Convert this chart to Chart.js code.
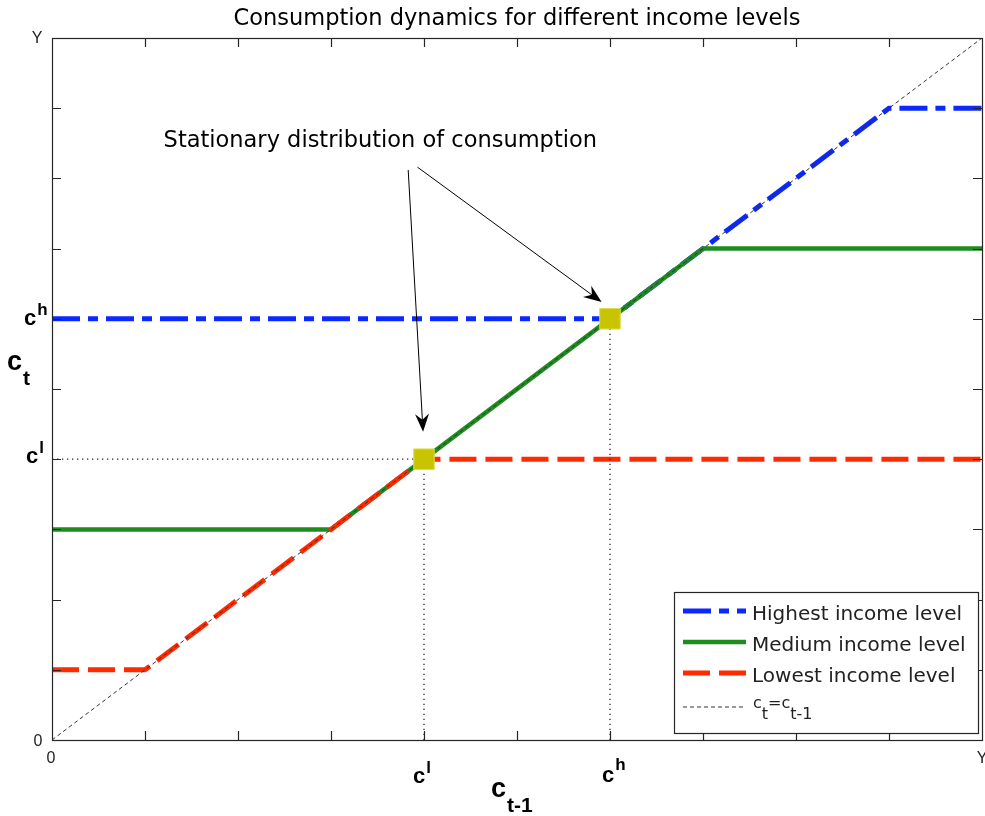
<!DOCTYPE html>
<html>
<head>
<meta charset="utf-8">
<script src="https://cdn.jsdelivr.net/npm/chart.js@4.4.1/dist/chart.umd.min.js"></script>
<style>
  body { margin: 0; background: #fff; }
</style>
</head>
<body>
<canvas id="myChart" width="985" height="816"></canvas>
<script>
// consumption levels (axis runs 0 .. Y, Y = 10 units)
const yMax = 10;
const cLow = 4;
const cHigh = 6;
const tickValues = [0, 1, 2, 3, 4, 5, 6, 7, 8, 9, 10];

// policy functions c_t(c_{t-1}) for each income level
const highX = [0, 6, 9, 10];
const highY = [6, 6, 9, 9];
const medX = [0, 3, 7, 10];
const medY = [3, 3, 7, 7];
const lowX = [0, 1, 4, 10];
const lowY = [1, 1, 4, 4];
const diagX = [0, 10];
const diagY = [0, 10];

// stationary points
const statX = [cLow, cHigh];
const statY = [cLow, cHigh];

// annotation (data units)
const noteText = "Stationary distribution of consumption";
const noteAt = { x: 3.53, y: 8.45 };
const arrowFrom = [{ x: 3.83, y: 8.12 }, { x: 3.93, y: 8.16 }];
const arrowTo = [{ x: 3.99, y: 4.39 }, { x: 5.91, y: 6.24 }];

const seriesNames = ["Highest income level", "Medium income level", "Lowest income level"];

const BLUE = "#0a28ff";
const GREEN = "#1e8c1e";
const RED = "#ff2a00";
const AXIS = "#262626";

function pts(xs, ys) {
    return xs.map(function (v, i) { return { x: v, y: ys[i] }; });
}

function lineSet(label, xs, ys, color, width, dash, order) {
    return {
        label: label,
        data: pts(xs, ys),
        borderColor: color,
        backgroundColor: color,
        borderWidth: width,
        borderDash: dash,
        borderCapStyle: "butt",
        pointRadius: 0,
        tension: 0,
        fill: false,
        order: order
    };
}

// supscript / subscript text helper
function drawScript(ctx, base, extra, x, y, baseFont, extraFont, dy) {
    ctx.font = baseFont;
    ctx.fillText(base, x, y);
    const w = ctx.measureText(base).width;
    ctx.font = extraFont;
    ctx.fillText(extra, x + w + 1, y + dy);
}

function drawArrow(ctx, x0, y0, x1, y1) {
    const ang = Math.atan2(y1 - y0, x1 - x0);
    const len = 18, half = 7, notch = 12;
    ctx.beginPath();
    ctx.moveTo(x0, y0);
    ctx.lineTo(x1 - Math.cos(ang) * notch, y1 - Math.sin(ang) * notch);
    ctx.stroke();
    ctx.beginPath();
    ctx.moveTo(x1, y1);
    ctx.lineTo(x1 - Math.cos(ang) * len - Math.sin(ang) * half, y1 - Math.sin(ang) * len + Math.cos(ang) * half);
    ctx.lineTo(x1 - Math.cos(ang) * notch, y1 - Math.sin(ang) * notch);
    ctx.lineTo(x1 - Math.cos(ang) * len + Math.sin(ang) * half, y1 - Math.sin(ang) * len - Math.cos(ang) * half);
    ctx.closePath();
    ctx.fill();
}

const axesPlugin = {
    id: "matlabAxes",
    afterDatasetsDraw(chart) {
        const ctx = chart.ctx;
        const a = chart.chartArea;
        const xs = chart.scales.x, ys = chart.scales.y;
        ctx.save();

        // box + inward ticks on all four sides
        ctx.strokeStyle = AXIS;
        ctx.lineWidth = 1.2;
        ctx.setLineDash([]);
        ctx.strokeRect(a.left + 0.5, a.top + 0.5, a.right - a.left, a.bottom - a.top);
        const tl = 9;
        ctx.beginPath();
        tickValues.slice(1, -1).forEach(function (v) {
            const px = Math.round(xs.getPixelForValue(v)) + 0.5;
            ctx.moveTo(px, a.bottom); ctx.lineTo(px, a.bottom - tl);
            ctx.moveTo(px, a.top); ctx.lineTo(px, a.top + tl);
            const py = Math.round(ys.getPixelForValue(v)) + 0.5;
            ctx.moveTo(a.left, py); ctx.lineTo(a.left + tl, py);
            ctx.moveTo(a.right, py); ctx.lineTo(a.right - tl, py);
        });
        ctx.stroke();

        // plain tick labels 0 and Y
        ctx.fillStyle = "#222";
        ctx.font = "16px 'Liberation Sans'";
        ctx.textAlign = "center";
        ctx.textBaseline = "alphabetic";
        ctx.fillText("0", a.left - 14, ys.getPixelForValue(0) + 6);
        ctx.fillText("Y", a.left - 15, ys.getPixelForValue(yMax) + 5);
        ctx.fillText("0", xs.getPixelForValue(0) - 1, a.bottom + 23);
        ctx.fillText("Y", xs.getPixelForValue(yMax), a.bottom + 23);

        // c^l, c^h tick labels
        ctx.fillStyle = "#000";
        ctx.textAlign = "left";
        const bf = "bold 22px 'Liberation Sans'";
        const sf = "bold 17px 'Liberation Sans'";
        drawScript(ctx, "c", "l", a.left - 26, ys.getPixelForValue(cLow) + 4, bf, sf, -10);
        drawScript(ctx, "c", "h", a.left - 28, ys.getPixelForValue(cHigh) + 6, bf, sf, -10);
        drawScript(ctx, "c", "l", xs.getPixelForValue(cLow) - 11, a.bottom + 43, bf, sf, -10);
        drawScript(ctx, "c", "h", xs.getPixelForValue(cHigh) - 8, a.bottom + 42, bf, sf, -12);

        // axis titles
        const tf = "bold 27px 'Liberation Sans'";
        const tsf = "bold 21px 'Liberation Sans'";
        drawScript(ctx, "c", "t", a.left - 45, 370, tf, tsf, 15);
        drawScript(ctx, "c", "t-1", (a.left + a.right) / 2 - 26, a.bottom + 57, tf, tsf, 15);

        // title
        ctx.textAlign = "center";
        ctx.font = "22.5px 'DejaVu Sans'";
        ctx.fillText("Consumption dynamics for different income levels", (a.left + a.right) / 2, 25);

        // annotation with arrows
        ctx.font = "22.5px 'DejaVu Sans'";
        ctx.fillText(noteText, xs.getPixelForValue(noteAt.x), ys.getPixelForValue(noteAt.y));
        ctx.strokeStyle = "#000";
        ctx.fillStyle = "#000";
        ctx.lineWidth = 1;
        for (let i = 0; i < arrowFrom.length; i++) {
            drawArrow(ctx,
                xs.getPixelForValue(arrowFrom[i].x), ys.getPixelForValue(arrowFrom[i].y),
                xs.getPixelForValue(arrowTo[i].x), ys.getPixelForValue(arrowTo[i].y));
        }

        // legend box
        const lx = 674, ly = 592, lw = 304, lh = 141;
        ctx.fillStyle = "#fff";
        ctx.fillRect(lx, ly, lw, lh);
        ctx.strokeStyle = AXIS;
        ctx.lineWidth = 1.2;
        ctx.strokeRect(lx + 0.5, ly + 0.5, lw, lh);
        const rows = [611, 642, 673, 707];
        ctx.textAlign = "left";
        for (let i = 0; i < 4; i++) {
            const ds = chart.data.datasets[i];
            ctx.strokeStyle = ds.borderColor;
            ctx.lineWidth = ds.borderWidth;
            ctx.setLineDash(ds.borderDash);
            ctx.beginPath();
            ctx.moveTo(683, rows[i]);
            ctx.lineTo(746, rows[i]);
            ctx.stroke();
        }
        ctx.setLineDash([]);
        ctx.fillStyle = "#222";
        ctx.font = "20px 'DejaVu Sans'";
        for (let i = 0; i < 3; i++) {
            ctx.fillText(seriesNames[i], 752, rows[i] + 9);
        }
        ctx.font = "16px 'DejaVu Sans'";
        let cx = 753;
        ctx.fillText("c", cx, 708); cx += ctx.measureText("c").width;
        ctx.fillText("t", cx, 719); cx += ctx.measureText("t").width;
        ctx.fillText("=c", cx, 708); cx += ctx.measureText("=c").width;
        ctx.fillText("t-1", cx, 719);

        ctx.restore();
    }
};

const guide = { borderColor: "#222", borderWidth: 1.3, borderDash: [1.3, 3.7] };

const chart = new Chart("myChart", {
    type: "line",
    data: {
        datasets: [
            lineSet(seriesNames[0], highX, highY, BLUE, 5, [28, 8, 10, 8], 5),
            lineSet(seriesNames[1], medX, medY, GREEN, 4.5, [], 4),
            lineSet(seriesNames[2], lowX, lowY, RED, 5, [27, 9], 3),
            lineSet("c_t=c_{t-1}", diagX, diagY, "#333", 1, [4, 3], 1),
            lineSet("guide l h", [0, cLow], [cLow, cLow], guide.borderColor, guide.borderWidth, guide.borderDash, 2),
            lineSet("guide l v", [cLow, cLow], [0, cLow], guide.borderColor, guide.borderWidth, guide.borderDash, 2),
            lineSet("guide h v", [cHigh, cHigh], [0, cHigh], guide.borderColor, guide.borderWidth, guide.borderDash, 2),
            {
                label: "stationary",
                data: pts(statX, statY),
                showLine: false,
                pointStyle: "rect",
                pointRadius: 14.5,
                pointBackgroundColor: "#c8c400",
                pointBorderColor: "#dede50",
                pointBorderWidth: 1,
                order: 0
            }
        ]
    },
    options: {
        responsive: false,
        devicePixelRatio: 1,
        animation: false,
        layout: { autoPadding: false, padding: { left: 52, right: 3, top: 38, bottom: 76 } },
        plugins: {
            legend: { display: false },
            title: { display: false },
            tooltip: { enabled: false }
        },
        scales: {
            x: { type: "linear", min: 0, max: yMax, display: false },
            y: { type: "linear", min: 0, max: yMax, display: false }
        }
    },
    plugins: [axesPlugin]
});
</script>
</body>
</html>
